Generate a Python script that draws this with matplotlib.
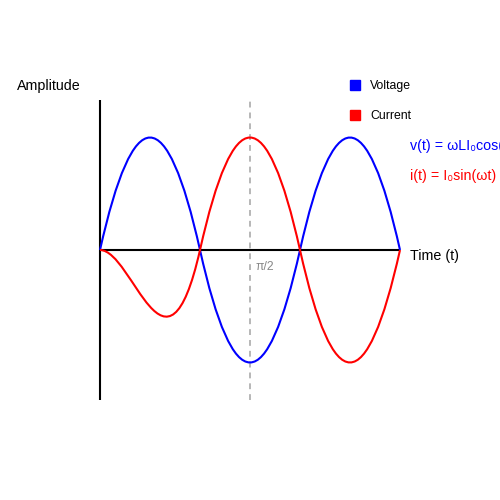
import numpy as np
import matplotlib
matplotlib.use("Agg")
import matplotlib.pyplot as plt
from matplotlib.path import Path
from matplotlib.patches import PathPatch

plt.rcParams['font.family'] = ['Liberation Sans', 'DejaVu Sans']

# curve control points (time, amplitude)
voltage_pts = [(0, 0), (0.5, 2), (1, 0), (1.5, -2), (2, 0), (2.5, 2), (3, 0)]
voltage_codes = [Path.MOVETO, Path.CURVE3, Path.CURVE3, Path.CURVE3, Path.CURVE3,
                 Path.CURVE3, Path.CURVE3]
current_pts = [(0, 0), (0.33, 0), (0.66, -1.333), (1, 0), (1.5, 2), (2, 0), (2.5, -2), (3, 0)]
current_codes = [Path.MOVETO, Path.CURVE4, Path.CURVE4, Path.CURVE4, Path.CURVE3,
                 Path.CURVE3, Path.CURVE3, Path.CURVE3]

series_names = ["Voltage", "Current"]
series_colors = ["#0000ff", "#ff0000"]
formulas = ["v(t) = ωLI₀cos(ωt)", "i(t) = I₀sin(ωt)"]
marker_t = 1.5
marker_label = "π/2"

fig = plt.figure(figsize=(5, 5), dpi=100)
ax = fig.add_axes([0.2, 0.2, 0.6, 0.6])
ax.set_xlim(0, 3)
ax.set_ylim(-4 / 3, 4 / 3)
ax.axis("off")

# axes lines
ax.plot([0, 0], [-4 / 3, 4 / 3], color="black", lw=1.5, clip_on=False, solid_capstyle="butt")
ax.plot([0, 3], [0, 0], color="black", lw=1.5, clip_on=False, solid_capstyle="butt")

# dashed marker line
ax.plot([marker_t, marker_t], [-4 / 3, 4 / 3], color="#aaaaaa", lw=1.2,
        dashes=(3.5, 3), clip_on=False, zorder=1)

for pts, codes, col in [(voltage_pts, voltage_codes, series_colors[0]),
                        (current_pts, current_codes, series_colors[1])]:
    ax.add_patch(PathPatch(Path(pts, codes), facecolor="none", edgecolor=col,
                           lw=1.5, clip_on=False, zorder=3))

ax.text(-0.83, 1.458, "Amplitude", fontsize=10.3, va="center", ha="left", clip_on=False)
ax.text(3.1, -0.05, "Time (t)", fontsize=10.3, va="center", ha="left", clip_on=False)
ax.text(1.55, -0.15, marker_label, fontsize=8.8, color="#888888", va="center", ha="left")

# legend
for i, (name, col) in enumerate(zip(series_names, series_colors)):
    y = 1.467 - i * 0.267
    ax.plot([2.55], [y], marker="s", ms=7.2, color=col, mec=col, clip_on=False)
    ax.text(2.7, y - 0.012, name, fontsize=8.8, va="center", ha="left", clip_on=False)

for i, (f, col) in enumerate(zip(formulas, series_colors)):
    ax.text(3.1, 0.925 - i * 0.267, f, fontsize=10.3, color=col, va="center", ha="left",
            clip_on=False)

fig.savefig("out.png", dpi=100)
